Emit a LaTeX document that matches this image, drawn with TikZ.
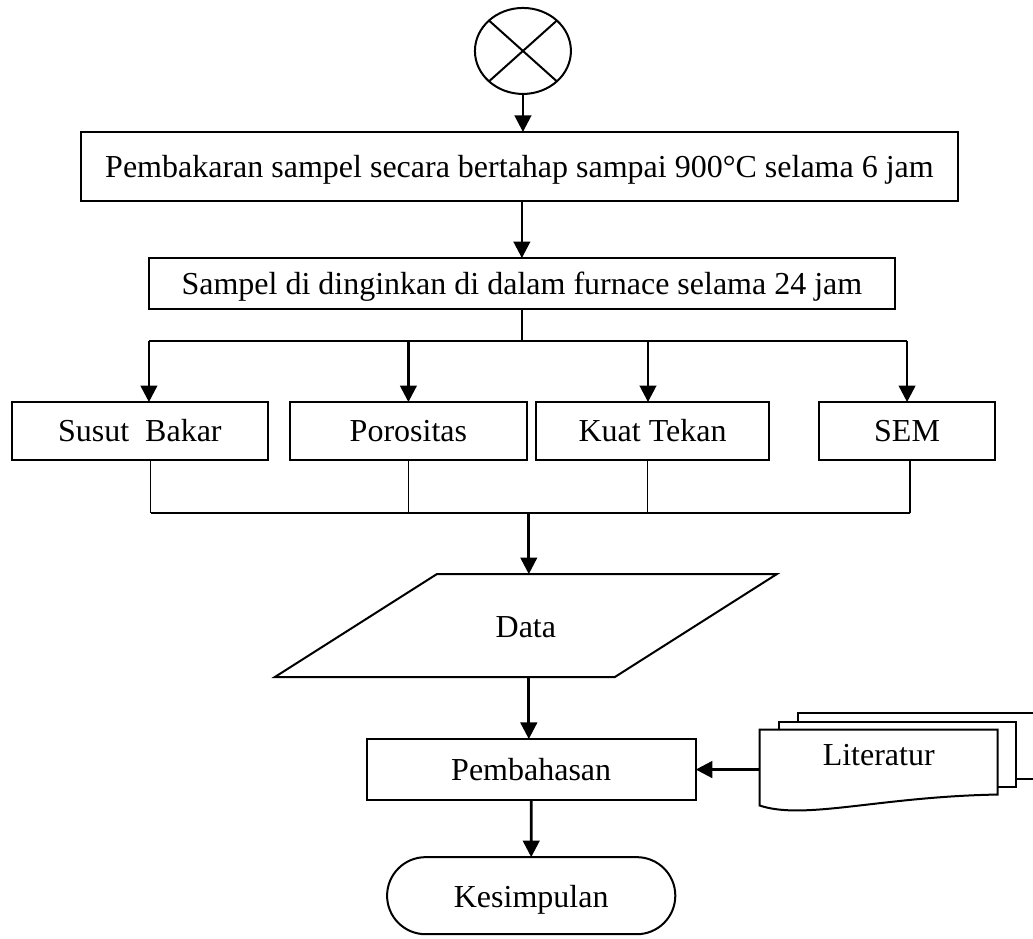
\documentclass[tikz,border=0pt]{standalone}
\usepackage{fontspec}
\setmainfont{Liberation Serif}
\usetikzlibrary{shapes.geometric,shapes.misc,arrows.meta,positioning}

\begin{document}
\begin{tikzpicture}[font=\fontsize{12}{14}\selectfont,
    block/.style={rectangle, draw, line width=0.75pt, text centered, inner sep=2pt, outer sep=0pt, text height=10.5pt, text depth=2.6pt, minimum height=21.75pt},
    startnode/.style={ellipse, draw, line width=0.75pt, minimum width=36pt, minimum height=32.25pt, inner sep=0pt, outer sep=0pt},
    io/.style={rectangle, minimum width=188.25pt, minimum height=38.6pt, inner sep=0pt, outer sep=0pt, text height=10.5pt, text depth=1.5pt},
    terminal/.style={rounded rectangle, draw, line width=0.75pt, outer sep=0pt, text height=10.5pt, text depth=1.5pt, minimum width=114.75pt, minimum height=28.9pt},
    docnode/.style={rectangle, minimum width=89.25pt, minimum height=30pt, outer sep=0pt},
    doc/.style={draw, line width=0.75pt, fill=white},
    line/.style={draw, line width=1pt, -{Triangle[length=6.2pt, width=6.2pt]}},
    link/.style={draw, line width=0.5pt}]
    \useasboundingbox (0,0) rectangle (387.375pt,-351.75pt);

    % Preparation
    \node [startnode] (start) at (196.1pt,-19.1pt) {};
    \draw [line width=0.75pt] (start.north west) -- (start.south east);
    \draw [line width=0.75pt] (start.north east) -- (start.south west);
    \node [block, minimum width=328.9pt, minimum height=25.9pt, below=14.25pt of start, xshift=-1.3pt] (burn) {Pembakaran sampel secara bertahap sampai 900°C selama 6 jam};
    \node [block, minimum width=279.75pt, minimum height=19.1pt, below=21.4pt of burn, xshift=0.9pt] (cool) {Sampel di dinginkan di dalam furnace selama 24 jam};

    % Testing
    \node [block, minimum width=96pt, below=34.9pt of cool, xshift=-143.25pt] (susut) {Susut~ Bakar};
    \node [block, minimum width=88.9pt, right=8.25pt of susut] (poros) {Porositas};
    \node [block, minimum width=87.4pt, right=3.4pt of poros] (kuat) {Kuat Tekan};
    \node [block, minimum width=66pt, right=18.75pt of kuat] (sem) {SEM};
    \coordinate [below=12pt of cool] (split);
    \coordinate [below=19.9pt of poros] (merge);

    % Analysis
    \node [io, below=99.4pt of cool, xshift=1.5pt] (data) {Data};
    \draw [line width=0.75pt] (data.south west) -- ([xshift=-60.75pt]data.south east) -- (data.north east) -- ([xshift=60.75pt]data.north west) -- cycle;
    \node [block, minimum width=123.4pt, minimum height=22.9pt, below=23.25pt of data, xshift=2pt] (pemb) {Pembahasan};
    \node [terminal, below=21.4pt of pemb] (kes) {Kesimpulan};
    \node [docnode, right=24pt of pemb] (lit) {};
    \begin{scope}[shift={(lit.north west)}, x=0.375pt, y=-0.375pt]
        \path [doc] (38,-17) rectangle (282,49);
        \path [doc] (19,-8) rectangle (256,57);
        \path [doc] (0,0) -- (238,0) -- (238,65) .. controls (120,67) and (45,91) .. (0,76) -- cycle;
    \end{scope}
    \node [yshift=5.3pt] (littext) at (lit) {Literatur};

    % Connections
    \path [line] (start) -- (start |- burn.north);
    \path [line] (cool.north |- burn.south) -- (cool.north);
    \path [link] (cool.south) -- (split);
    \path [link] ([xshift=3.6pt]split -| susut) -- (split -| sem);
    \path [line] ([xshift=3.4pt]split -| susut) -- ([xshift=3.4pt]susut.north);
    \path [line] (split -| poros) -- (poros.north);
    \path [line] ([xshift=-1.7pt]split -| kuat) -- ([xshift=-1.7pt]kuat.north);
    \path [line] (split -| sem) -- (sem.north);
    \path [link] ([xshift=4.1pt]susut.south) -- ([xshift=4.1pt]merge -| susut);
    \path [link] (poros.south) -- (merge -| poros);
    \path [link] ([xshift=-2pt]kuat.south) -- ([xshift=-2pt]merge -| kuat);
    \path [link] ([xshift=1.1pt]sem.south) -- ([xshift=1.1pt]merge -| sem);
    \path [link] ([xshift=4.1pt]merge -| susut) -- ([xshift=1.1pt]merge -| sem);
    \path [line] ([xshift=1.1pt]merge -| data) -- ([xshift=1.1pt]data.north);
    \path [line] ([xshift=1.1pt]data.south) -- ([xshift=1.1pt]data.south |- pemb.north);
    \path [line] (pemb) -- (kes);
    \path [line] (lit.west) -- (pemb.east);
\end{tikzpicture}
\end{document}
